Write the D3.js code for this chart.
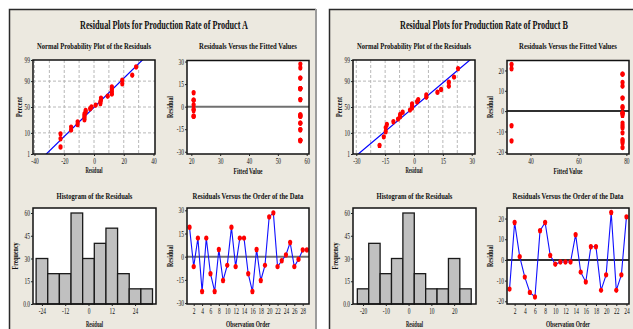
<!DOCTYPE html>
<html>
<head>
<meta charset="utf-8">
<script src="https://cdn.jsdelivr.net/npm/d3@7"></script>
<style>
  body { margin: 0; background: #fff; }
  svg { display: block; }
  text { font-family: "Liberation Serif", "Times New Roman", serif; fill: #111; }
</style>
</head>
<body>
<svg id="chart" width="633" height="329"></svg>
<script>
// ---- Product A ----
const residA = [19, -6.4, 12, -22.5, 12, -11, -22.5, 4.7, -15.4, -5.6, 19, -6.4, 12, 12, -11,
                -22.5, 4.7, -15.4, -5.6, 25.7, 28.3, -6.4, -2.6, 1.1, 9.2, -6.4, -1.7, 4.3, 4.3];
const fittedA = [57.8, 57.8, 57.8, 57.8, 57.8, 57.8, 57.8, 57.8, 57.8, 57.8, 57.8, 57.8, 57.8, 57.8, 57.8,
                 57.8, 57.8, 57.8, 57.8, 57.8, 57.8, 20.8, 20.8, 20.8, 20.8, 20.8, 20.8, 20.8, 20.8];
const histEdgesA = [-27, -21, -15, -9, -3, 3, 9, 15, 21, 27, 33];
const histFreqA = [30, 20, 20, 60, 30, 40, 50, 20, 10, 10];

// ---- Product B ----
const residB = [-14.1, 18.1, 1.6, -8.3, -15.7, -17.9, 14.1, 18.1, 2.2, -2.1, -1, -1,
                -1, 12.2, -5.9, -10.7, 6.4, 6.4, -14.7, -7.2, 22.9, -14.7, -7.2, 20.8];
const fittedB = [78.4, 78.4, 78.4, 78.4, 78.4, 78.4, 78.4, 78.4, 78.4, 78.4, 78.4, 78.4,
                 78.4, 78.4, 78.4, 78.4, 78.4, 78.4, 78.4, 78.4, 32.1, 32.1, 32.1, 32.1];
const histEdgesB = [-22.5, -17.5, -12.5, -7.5, -2.5, 2.5, 7.5, 12.5, 17.5, 22.5, 27.5];
const histFreqB = [10, 40, 20, 30, 60, 20, 10, 10, 30, 10];

// ---- tick labels ----
const pctTicks = [1, 10, 50, 90, 99];
const freqTicks = [0, 15, 30, 45, 60];

const svg = d3.select('#chart');
const SQ = 0.68; // horizontal squeeze of the tick lettering

// inverse normal cdf (Abramowitz & Stegun 26.2.23)
function probit(p) {
  const q = p < 0.5 ? p : 1 - p;
  const t = Math.sqrt(-2 * Math.log(q));
  const z = t - (2.515517 + 0.802853 * t + 0.010328 * t * t) /
            (1 + 1.432788 * t + 0.189269 * t * t + 0.001308 * t * t * t);
  return p < 0.5 ? -z : z;
}

// squeeze tick text horizontally around its anchor with a scale transform
function squeezeTicks(sel, f, anchor) {
  sel.each(function() {
    const t = d3.select(this);
    const x = +t.attr('x') || 0, y = +t.attr('y') || 0;
    t.attr('transform', 'translate(' + x + ',' + y + ') scale(' + f + ',1)').attr('x', 0).attr('y', 0);
  });
}

function label(g, txt, x, y, size, bold, w, rot) {
  const t = g.append('text')
    .attr('text-anchor', 'middle')
    .attr('font-size', size)
    .attr('font-weight', bold ? 'bold' : 'normal')
    .text(txt);
  const nat = t.node().getComputedTextLength();
  const s = nat > 0 ? w / nat : 1;
  t.attr('transform', 'translate(' + x + ',' + y + ')' + (rot ? ' rotate(-90)' : '') + ' scale(' + s + ',1)');
  return t;
}

function styleAxis(a) {
  a.select('.domain').remove();
  a.selectAll('line').attr('stroke', '#222');
  a.selectAll('text').attr('font-size', 8).attr('fill', '#222')
    .style('font-family', '"Liberation Serif", serif');
  squeezeTicks(a.selectAll('text'), SQ);
}

function plotBox(g, x0, x1, y0, y1) {
  g.append('rect').attr('x', x0).attr('y', y0).attr('width', x1 - x0).attr('height', y1 - y0)
    .attr('fill', '#fff');
}
function boxFrame(g, x0, x1, y0, y1) {
  g.append('rect').attr('x', x0).attr('y', y0).attr('width', x1 - x0).attr('height', y1 - y0)
    .attr('fill', 'none').attr('stroke', '#111').attr('stroke-width', 1.5);
}

function dots(g, data, fx, fy) {
  g.append('g').selectAll('ellipse').data(data).enter().append('ellipse')
    .attr('cx', fx).attr('cy', fy).attr('rx', 2.1).attr('ry', 2.7).attr('fill', '#ff0000');
}

function drawPanel(ox, cfg) {
  const g = svg.append('g').attr('transform', 'translate(' + ox + ',0)');

  // panel background & frame
  g.append('rect').attr('x', 9).attr('y', 9).attr('width', 307).attr('height', 340).attr('fill', '#ece9e0');
  g.append('path').attr('d', 'M9.5,345V9.5H316').attr('fill', 'none').attr('stroke', '#2a2a2a').attr('stroke-width', 1.5);
  g.append('path').attr('d', 'M316,9V345').attr('fill', 'none').attr('stroke', '#9c9c9c').attr('stroke-width', 2);

  label(g, cfg.title, 164, 28.5, 12, true, 168);

  const res = cfg.resid;
  const n = res.length;
  const mean = d3.mean(res), sd = d3.deviation(res);

  // ---------- Normal probability plot ----------
  {
    const X0 = 33, X1 = 155, Y0 = 60, Y1 = 154;
    const x = d3.scaleLinear().domain(cfg.normXDom).range([X0, X1]);
    const zTop = probit(0.99);
    const y = d3.scaleLinear().domain([-zTop, zTop]).range([Y1, Y0]);
    plotBox(g, X0, X1, Y0, Y1);
    // dashed grid
    const grid = g.append('g').attr('stroke', '#b8b8b8').attr('stroke-dasharray', '3,2').attr('stroke-width', 1);
    grid.selectAll('.gx').data(cfg.normGridX).enter().append('line')
      .attr('x1', d => x(d)).attr('x2', d => x(d)).attr('y1', Y0).attr('y2', Y1);
    grid.selectAll('.gy').data([10, 50, 90]).enter().append('line')
      .attr('y1', d => y(probit(d / 100))).attr('y2', d => y(probit(d / 100))).attr('x1', X0).attr('x2', X1);
    // fitted normal line
    const clip = 'clipN' + ox;
    g.append('clipPath').attr('id', clip).append('rect')
      .attr('x', X0).attr('y', Y0).attr('width', X1 - X0).attr('height', Y1 - Y0);
    g.append('line').attr('clip-path', 'url(#' + clip + ')')
      .attr('x1', x(mean - 3 * sd)).attr('y1', y(-3)).attr('x2', x(mean + 3 * sd)).attr('y2', y(3))
      .attr('stroke', '#0000ff').attr('stroke-width', 1.2);
    const sorted = res.slice().sort(d3.ascending);
    dots(g, sorted, d => x(d), (d, i) => y(probit((i + 1 - 0.3) / (n + 0.4))));
    boxFrame(g, X0, X1, Y0, Y1);
    const ax = g.append('g').attr('transform', 'translate(0,' + Y1 + ')')
      .call(d3.axisBottom(x).tickValues(cfg.normXTicks).tickSize(2).tickPadding(2).tickFormat(d => String(d)));
    styleAxis(ax);
    const ay = g.append('g').attr('transform', 'translate(' + X0 + ',0)')
      .call(d3.axisLeft(y).tickValues(pctTicks.map(p => probit(p / 100))).tickSize(2).tickPadding(1)
        .tickFormat((d, i) => String(pctTicks[i])));
    styleAxis(ay);
    label(g, 'Normal Probability Plot of the Residuals', 94, 49, 9, true, 114);
    label(g, 'Residual', 94, 173, 8, true, 17);
    label(g, 'Percent', 21.5, 107, 8, true, 20, true);
  }

  // ---------- Residuals versus fitted values ----------
  {
    const X0 = 187, X1 = 309, Y0 = 60.5, Y1 = 154;
    const x = d3.scaleLinear().domain(cfg.fitXDom).range([X0, X1]);
    const y = d3.scaleLinear().domain(cfg.fitYDom).range([Y1, Y0]);
    plotBox(g, X0, X1, Y0, Y1);
    g.append('line').attr('x1', X0).attr('x2', X1).attr('y1', y(0)).attr('y2', y(0))
      .attr('stroke', cfg.zeroColor).attr('stroke-width', 2);
    dots(g, res, (d, i) => x(cfg.fitted[i]), d => y(d));
    boxFrame(g, X0, X1, Y0, Y1);
    const ax = g.append('g').attr('transform', 'translate(0,' + Y1 + ')')
      .call(d3.axisBottom(x).tickValues(cfg.fitXTicks).tickSize(2).tickPadding(2).tickFormat(d => String(d)));
    styleAxis(ax);
    const ay = g.append('g').attr('transform', 'translate(' + X0 + ',0)')
      .call(d3.axisLeft(y).tickValues(cfg.resTicks).tickSize(2).tickPadding(1).tickFormat(d => String(d)));
    styleAxis(ay);
    label(g, 'Residuals Versus the Fitted Values', 248, 49, 9, true, 98);
    label(g, 'Fitted Value', 248, 173.5, 8, true, 29);
    label(g, 'Residual', 172.5, 107, 8, true, 22, true);
  }

  // ---------- Histogram ----------
  {
    const X0 = 33, X1 = 156, Y0 = 208, Y1 = 304;
    const x = d3.scaleLinear().domain(cfg.histXDom).range([X0, X1]);
    const y = d3.scaleLinear().domain([0, 63.3]).range([Y1, Y0]);
    plotBox(g, X0, X1, Y0, Y1);
    g.append('g').selectAll('rect').data(cfg.histFreq).enter().append('rect')
      .attr('x', (d, i) => x(cfg.histEdges[i]))
      .attr('width', (d, i) => x(cfg.histEdges[i + 1]) - x(cfg.histEdges[i]))
      .attr('y', d => y(d)).attr('height', d => y(0) - y(d))
      .attr('fill', '#c0c0c0').attr('stroke', '#1a1a1a').attr('stroke-width', 1.3);
    boxFrame(g, X0, X1, Y0, Y1);
    const ax = g.append('g').attr('transform', 'translate(0,' + Y1 + ')')
      .call(d3.axisBottom(x).tickValues(cfg.histXTicks).tickSize(2).tickPadding(2).tickFormat(d => String(d)));
    styleAxis(ax);
    const ay = g.append('g').attr('transform', 'translate(' + X0 + ',0)')
      .call(d3.axisLeft(y).tickValues(freqTicks).tickSize(2).tickPadding(1)
        .tickFormat(d => d === 0 ? '0.0' : String(d)));
    styleAxis(ay);
    label(g, 'Histogram of the Residuals', 94.5, 199, 9, true, 76);
    label(g, 'Residual', 94.5, 327, 8, true, 17);
    label(g, 'Frequency', 17.5, 256, 8, true, 27, true);
  }

  // ---------- Residuals versus order ----------
  {
    const X0 = 187, X1 = 309, Y0 = 208, Y1 = 304;
    const x = d3.scaleLinear().domain(cfg.ordXDom).range([X0, X1]);
    const y = d3.scaleLinear().domain(cfg.ordYDom).range([Y1, Y0]);
    plotBox(g, X0, X1, Y0, Y1);
    g.append('line').attr('x1', X0).attr('x2', X1).attr('y1', y(0)).attr('y2', y(0))
      .attr('stroke', cfg.zeroColor).attr('stroke-width', 2);
    const line = d3.line().x((d, i) => x(i + 1)).y(d => y(d));
    g.append('path').attr('d', line(res)).attr('fill', 'none')
      .attr('stroke', '#1010ff').attr('stroke-width', 1.1);
    dots(g, res, (d, i) => x(i + 1), d => y(d));
    boxFrame(g, X0, X1, Y0, Y1);
    const ax = g.append('g').attr('transform', 'translate(0,' + Y1 + ')')
      .call(d3.axisBottom(x).tickValues(cfg.ordXTicks).tickSize(2).tickPadding(2).tickFormat(d => String(d)));
    styleAxis(ax);
    const ay = g.append('g').attr('transform', 'translate(' + X0 + ',0)')
      .call(d3.axisLeft(y).tickValues(cfg.resTicks).tickSize(2).tickPadding(1).tickFormat(d => String(d)));
    styleAxis(ay);
    label(g, 'Residuals Versus the Order of the Data', 248, 199, 9, true, 111);
    label(g, 'Observation Order', 248, 327, 8, true, 44);
    label(g, 'Residual', 172.5, 256, 8, true, 22, true);
  }
}

drawPanel(0, {
  title: 'Residual Plots for Production Rate of Product A',
  resid: residA, fitted: fittedA,
  normXDom: [-41, 41], normXTicks: [-40, -20, 0, 20, 40], normGridX: [-40, -30, -20, -10, 0, 10, 20, 30],
  fitXDom: [18.5, 60.8], fitXTicks: [20, 30, 40, 50, 60], fitYDom: [-31.5, 30.7],
  resTicks: [-30, -15, 0, 15, 30],
  histEdges: histEdgesA, histFreq: histFreqA, histXDom: [-28.6, 34.8], histXTicks: [-24, -12, 0, 12, 24],
  ordXDom: [0.4, 29.5], ordXTicks: [2, 4, 6, 8, 10, 12, 14, 16, 18, 20, 22, 24, 26, 28], ordYDom: [-30.6, 31.5],
  zeroColor: '#707070'
});

drawPanel(320, {
  title: 'Residual Plots for Production Rate of Product B',
  resid: residB, fitted: fittedB,
  normXDom: [-31.7, 31.7], normXTicks: [-30, -15, 0, 15, 30], normGridX: [-30, -22.5, -15, -7.5, 0, 7.5, 15, 22.5],
  fitXDom: [30.2, 81.1], fitXTicks: [40, 60, 80], fitYDom: [-21.1, 24.9],
  resTicks: [-20, -10, 0, 10, 20],
  histEdges: histEdgesB, histFreq: histFreqB, histXDom: [-24.4, 29.6], histXTicks: [-20, -10, 0, 10, 20],
  ordXDom: [0.5, 24.5], ordXTicks: [2, 4, 6, 8, 10, 12, 14, 16, 18, 20, 22, 24], ordYDom: [-21.3, 25.1],
  zeroColor: '#303030'
});
</script>
</body>
</html>
